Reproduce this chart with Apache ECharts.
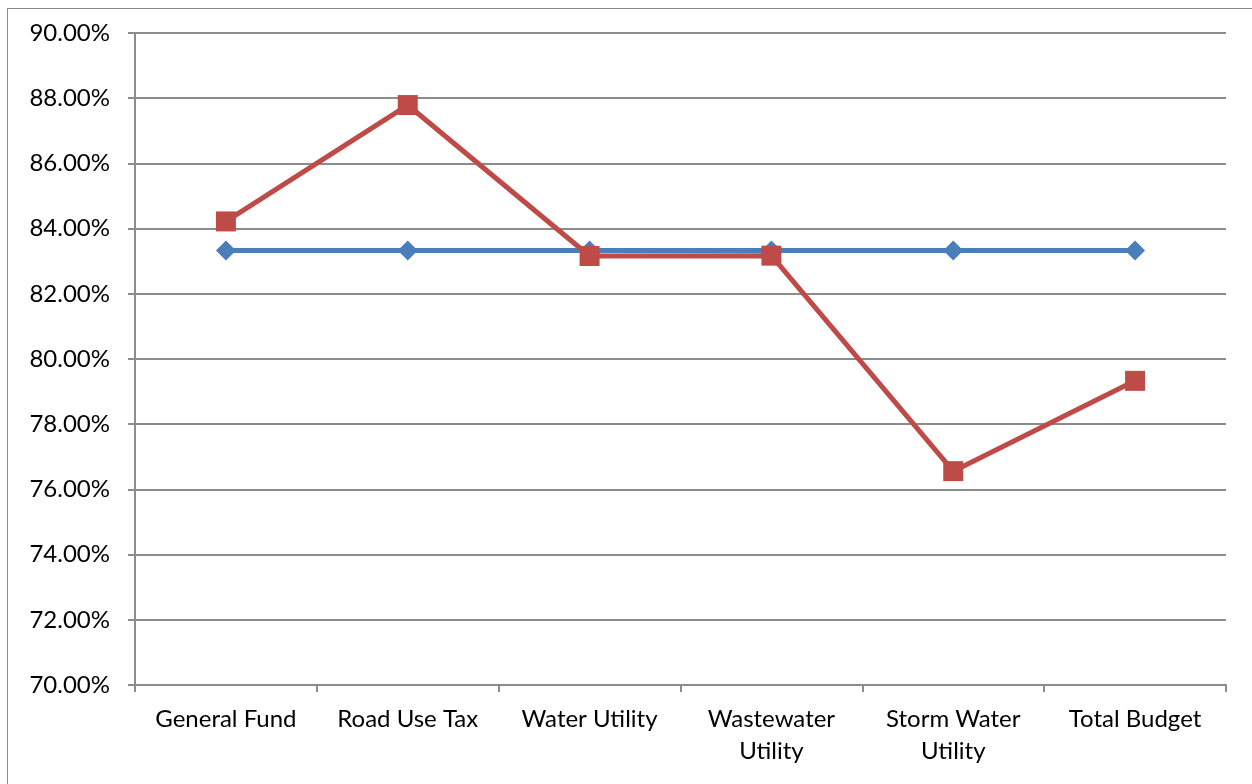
<!DOCTYPE html>
<html>
<head>
<meta charset="utf-8">
<script src="https://cdn.jsdelivr.net/npm/echarts@6/dist/echarts.min.js"></script>
<style>
html,body{margin:0;padding:0;background:#fff;}
#frame{position:absolute;left:7px;top:8px;width:1260px;height:800px;border:1.5px solid #8c8c8c;box-sizing:border-box;}
#chart{position:absolute;left:0;top:0;width:1252px;height:784px;}
</style>
</head>
<body>
<div id="frame"></div>
<div id="chart"></div>
<script>
const categories = ['General Fund', 'Road Use Tax', 'Water Utility', 'Wastewater\nUtility', 'Storm Water\nUtility', 'Total Budget'];
const targetValues = [83.33, 83.33, 83.33, 83.33, 83.33, 83.33];
const actualValues = [84.22, 87.79, 83.16, 83.17, 76.56, 79.33];
const yMin = 70, yMax = 90, yStep = 2;

const chart = echarts.init(document.getElementById('chart'), null, {renderer: 'canvas'});
const font = 'Lato';
chart.setOption({
  animation: false,
  backgroundColor: 'transparent',
  grid: {left: 135, right: 26, top: 33, bottom: 99, containLabel: false},
  xAxis: {
    type: 'category',
    data: categories,
    boundaryGap: true,
    axisLine: {lineStyle: {color: '#8c8c8c', width: 2}},
    axisTick: {show: true, length: 7, lineStyle: {color: '#8c8c8c', width: 2}, alignWithLabel: false},
    axisLabel: {color: '#000', fontFamily: font, fontSize: 24, lineHeight: 32, margin: 18, interval: 0}
  },
  yAxis: {
    type: 'value',
    min: yMin, max: yMax, interval: yStep,
    axisLine: {show: true, lineStyle: {color: '#8c8c8c', width: 2}},
    axisTick: {show: true, length: 7, lineStyle: {color: '#8c8c8c', width: 2}},
    splitLine: {show: true, lineStyle: {color: '#8c8c8c', width: 2}},
    axisLabel: {color: '#000', fontFamily: font, fontSize: 24, margin: 25,
      formatter: v => v.toFixed(2) + '%'}
  },
  series: [
    {
      name: 'Target', type: 'line', data: targetValues,
      symbol: 'diamond', symbolSize: 20,
      lineStyle: {color: '#4a7ebb', width: 5},
      itemStyle: {color: '#4a7ebb'}
    },
    {
      name: 'Actual', type: 'line', data: actualValues,
      symbol: 'rect', symbolSize: 20,
      lineStyle: {color: '#be4b48', width: 5},
      itemStyle: {color: '#be4b48'}
    }
  ]
});
</script>
</body>
</html>
